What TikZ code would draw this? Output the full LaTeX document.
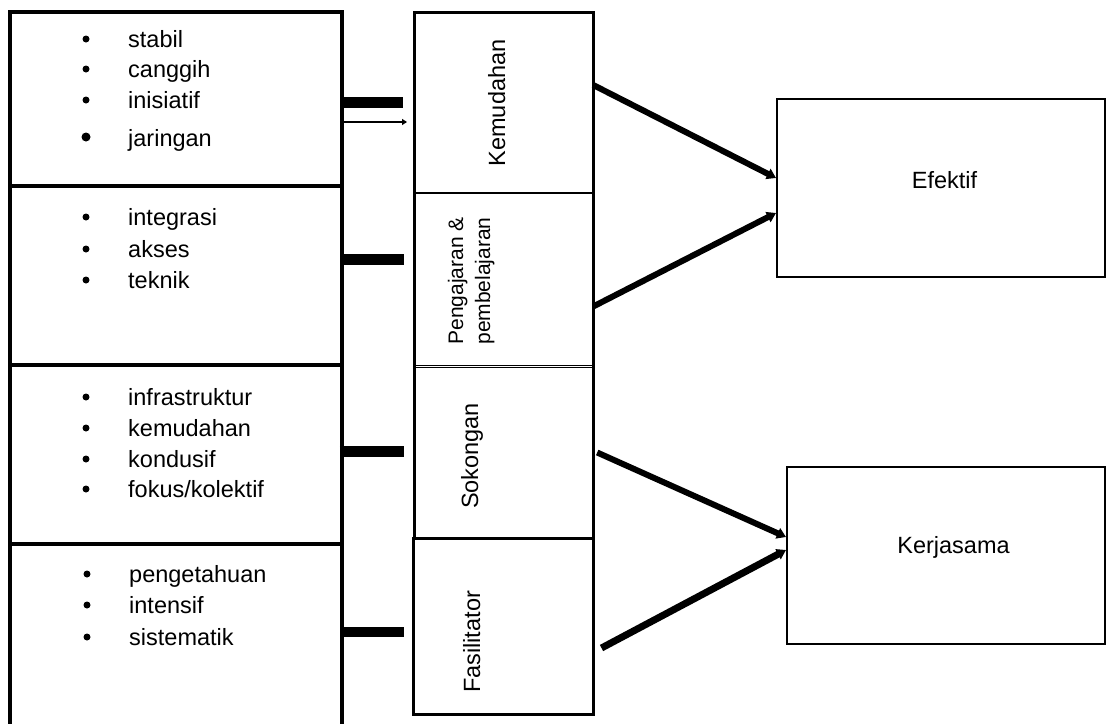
\documentclass[tikz,border=0pt]{standalone}
\usepackage{fontspec}
\setmainfont{Liberation Sans}
\usetikzlibrary{arrows.meta}
\begin{document}
\begin{tikzpicture}[x=1pt,y=-1pt,
  lbox/.style={draw, line width=3.5pt, inner sep=0pt, minimum width=332pt},
  mcell/.style={inner sep=0pt, minimum width=178pt},
  rbox/.style={draw, line width=2pt, inner sep=0pt},
  bigtxt/.style={font=\fontsize{23.5}{28}\selectfont, inner sep=0pt},
  itm/.style={bigtxt, anchor=base west},
  bul/.style={circle, fill, inner sep=0pt, minimum size=7pt},
  vlab/.style={bigtxt, rotate=90, anchor=base},
  vsmall/.style={font=\fontsize{21}{26}\selectfont, inner sep=0pt, rotate=90, anchor=base},
  bar/.style={line width=11pt},
  conn/.style={line width=6pt, -{Triangle[length=9pt,width=11pt]}},
  thinarr/.style={line width=2pt, -{Triangle[length=5pt,width=6pt]}},
]
\useasboundingbox (0,0) rectangle (1108,723);

% left column
\node[lbox, minimum height=174pt] (b1) at (176,99) {};
\node[lbox, minimum height=179pt] (b2) at (176,275.5) {};
\node[lbox, minimum height=179pt] (b3) at (176,454.5) {};
\node[lbox, minimum height=186pt] (b4) at (176,637) {};

% bullet items (bullet centre about 8pt above the baseline)
\node[bul] (u1) at (86,39) {};   \node[itm] (t1) at (128,47) {stabil};
\node[bul] (u2) at (86,69) {};   \node[itm] (t2) at (128,77) {canggih};
\node[bul] (u3) at (86,100) {};  \node[itm] (t3) at (128,108) {inisiatif};
\node[bul,minimum size=9pt] (u4) at (86,137) {};  \node[itm] (t4) at (128,146) {jaringan};
\node[bul] (u5) at (86,217) {};  \node[itm] (t5) at (128,225) {integrasi};
\node[bul] (u6) at (86,249) {};  \node[itm] (t6) at (128,257) {akses};
\node[bul] (u7) at (86,280) {};  \node[itm] (t7) at (128,288) {teknik};
\node[bul] (u8) at (86,397) {};  \node[itm] (t8) at (128,405) {infrastruktur};
\node[bul] (u9) at (86,428) {};  \node[itm] (t9) at (128,436) {kemudahan};
\node[bul] (u10) at (86,459) {}; \node[itm] (t10) at (128,467) {kondusif};
\node[bul] (u11) at (86,489) {}; \node[itm] (t11) at (128,497) {fokus/kolektif};
\node[bul] (u12) at (87,574) {}; \node[itm] (t12) at (129,582) {pengetahuan};
\node[bul] (u13) at (87,605) {}; \node[itm] (t13) at (129,613) {intensif};
\node[bul] (u14) at (87,637) {}; \node[itm] (t14) at (129,645) {sistematik};

% middle column
\node[mcell, minimum height=180pt] (kem) at (504,103) {};
\node[mcell, minimum height=173pt] (pen) at (504,279.5) {};
\node[mcell, minimum height=171pt] (sok) at (504,452.5) {};
\node[draw, line width=3pt, inner sep=0pt, minimum width=180pt, minimum height=176pt] (fas) at (503,626) {};
\draw[line width=3pt] (kem.north west) -- (kem.north east);
\draw[line width=3pt] ([yshift=1.5pt]kem.north west) -- (sok.south west);
\draw[line width=3pt] ([yshift=1.5pt]kem.north east) -- (sok.south east);
\draw[line width=2pt] (kem.south west) -- (kem.south east);
\draw[line width=1.3pt] ([yshift=1pt]pen.south west) -- ([yshift=1pt]pen.south east);
\draw[line width=1.3pt] ([yshift=-1pt]sok.north west) -- ([yshift=-1pt]sok.north east);

\node[vlab] (lkem) at (505,103) {Kemudahan};
\node[vsmall] (lpen1) at (463,281) {Pengajaran \&};
\node[vsmall] (lpen2) at (490,281) {pembelajaran};
\node[vlab] (lsok) at (478,456) {Sokongan};
\node[vlab] (lfas) at (480,642) {Fasilitator};

% right boxes
\node[rbox, minimum width=328pt, minimum height=178pt] (ef) at (941,188) {};
\node[rbox, minimum width=318pt, minimum height=177pt] (kj) at (946,555.5) {};
\node[bigtxt, anchor=base] (lef) at (944.5,188) {Efektif};
\node[bigtxt, anchor=base] (lkj) at (953.5,553) {Kerjasama};

% bars from left column
\coordinate (e1) at (403,102.5);
\coordinate (e0) at (407,122);
\coordinate (e2) at (404,259);
\coordinate (e3) at (404,451);
\coordinate (e4) at (404,632);
\draw[bar] ([xshift=-3pt]b1.east |- e1) -- (e1);
\draw[thinarr] (b1.east |- e0) -- (e0);
\draw[bar] ([xshift=-2pt]b2.east |- e2) -- (e2);
\draw[bar] ([xshift=-4pt]b3.east |- e3) -- (e3);
\draw[bar,line width=10pt] ([xshift=-2pt]b4.east |- e4) -- (e4);

% arrows to outcomes
\draw[conn] ([yshift=18pt]kem.east) -- ([yshift=10pt]ef.west);
\draw[conn] ([yshift=-27pt]pen.east) -- ([yshift=-25pt]ef.west);
\draw[conn] ([xshift=4pt]sok.east) -- ([yshift=18.5pt]kj.west);
\draw[conn,line width=7pt] ([xshift=7pt,yshift=-22pt]fas.east) -- ([yshift=5.5pt]kj.west);
\end{tikzpicture}
\end{document}
